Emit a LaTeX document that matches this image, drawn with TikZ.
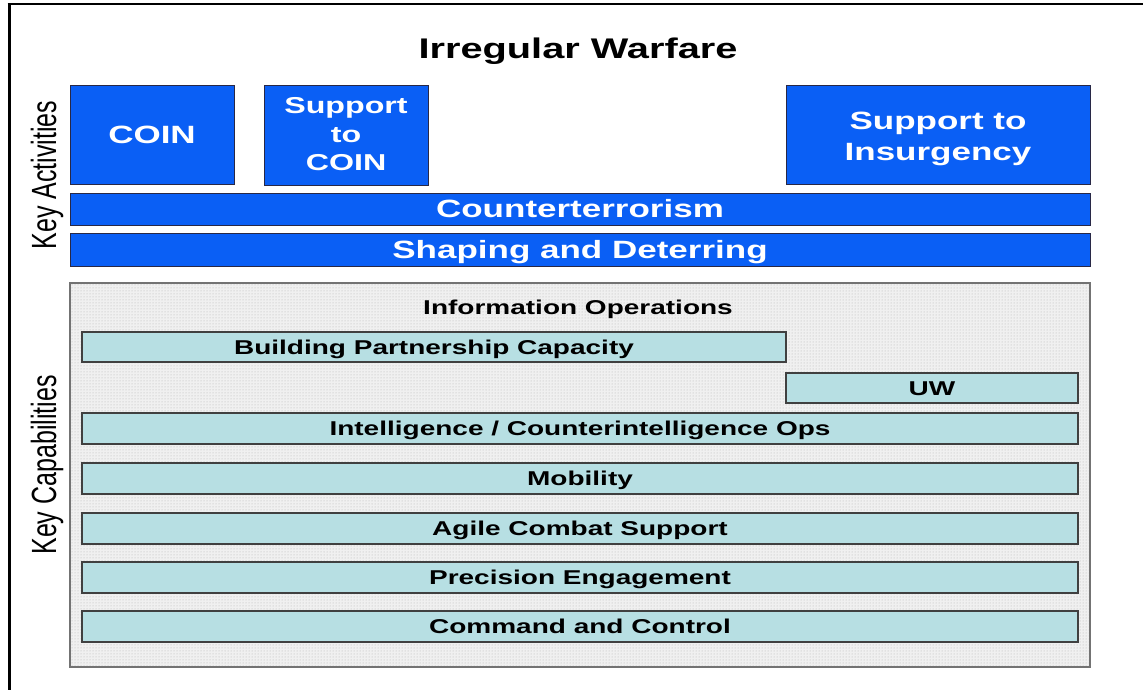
\documentclass[tikz,border=0pt]{standalone}
\usepackage{fontspec}
\setmainfont{Liberation Sans}
\newfontfamily\wfont{Liberation Sans}[FakeStretch=1.4]
\usetikzlibrary{patterns}
\definecolor{actblue}{RGB}{10,95,245}
\definecolor{capcyan}{RGB}{183,223,227}
\definecolor{boxedge}{RGB}{40,40,70}
\begin{document}
\begin{tikzpicture}[x=1pt,y=-1pt,
  bluebox/.style={draw=boxedge,line width=1pt,fill=actblue,text=white,inner sep=0pt,outer sep=0pt,align=center,
    font=\wfont\bfseries\fontsize{25}{30}\selectfont},
  bluebar/.style={bluebox,text height=17.9pt,text depth=0pt},
  bluetext/.style={text=white,inner sep=0pt,align=center},
  capbox/.style={draw=black!75,line width=1.3pt,fill=capcyan,text=black,inner sep=0pt,outer sep=0pt,
    text height=14.3pt,text depth=0pt,
    font=\wfont\bfseries\fontsize{20}{24}\selectfont},
  panel/.style={draw=black!55,line width=1.2pt,preaction={fill=gray!12},pattern=dots,pattern color=gray!60,inner sep=0pt,outer sep=0pt},
  sidelabel/.style={rotate=90,inner sep=0pt,font=\fontsize{25}{30}\selectfont}
]
\useasboundingbox (0,0) rectangle (1143,690);
\fill[white] (0,0) rectangle (1143,690);
% frame
\coordinate (ftl) at (9,4);
\coordinate (fbl) at (9,690);
\coordinate (ftr) at (1143,4);
\draw[line width=3pt] (fbl) -- (ftl);
\draw[line width=2pt] (7.5,4) -- (ftr);

\node[inner sep=0pt,text height=20.3pt,text depth=0pt,font=\wfont\bfseries\fontsize{28.4}{32}\selectfont] (title) at (578,48) {Irregular Warfare};

% key activities
\node[bluebox,minimum width=164,minimum height=98,text height=17.9pt,text depth=0pt] (coin) at (152,135) {COIN};
\node[bluebox,minimum width=164,minimum height=99] (scoin) at (346,135.5) {};
\node[bluetext,font=\wfont\bfseries\fontsize{23}{28.5}\selectfont] (scointxt) at (346,134.5) {Support\\to\\COIN};
\node[bluebox,minimum width=304,minimum height=98] (sins) at (938,135) {};
\node[bluetext,font=\wfont\bfseries\fontsize{25}{31}\selectfont] (sinstxt) at (938,139) {Support to\\Insurgency};
\node[bluebar,minimum width=1020,minimum height=32] (ct) at (580,209) {Counterterrorism};
\node[bluebar,minimum width=1020,minimum height=33] (sd) at (580,249.5) {Shaping and Deterring};

% key capabilities
\node[panel,minimum width=1020,minimum height=384] (panel) at (580,475) {};
\node[inner sep=0pt,text height=14.3pt,text depth=0pt,font=\wfont\bfseries\fontsize{20}{24}\selectfont] (io) at (578,307) {Information Operations};
\node[capbox,minimum width=704,minimum height=30] (bpc) at (434,347) {Building Partnership Capacity};
\node[capbox,minimum width=292,minimum height=30] (uw) at (932,388) {UW};
\node[capbox,minimum width=996,minimum height=31] (intel) at (580,428.5) {Intelligence / Counterintelligence Ops};
\node[capbox,minimum width=996,minimum height=31] (mob) at (580,478.5) {Mobility};
\node[capbox,minimum width=996,minimum height=31] (acs) at (580,528.5) {Agile Combat Support};
\node[capbox,minimum width=996,minimum height=31] (pe) at (580,577.5) {Precision Engagement};
\node[capbox,minimum width=996,minimum height=31] (cc) at (580,626.5) {Command and Control};

% side labels
\node[sidelabel] (ka) at (47,175) {\scalebox{1}[1.4]{Key Activities}};
\node[sidelabel] (kc) at (47,465) {\scalebox{1}[1.4]{Key Capabilities}};
\end{tikzpicture}
\end{document}
